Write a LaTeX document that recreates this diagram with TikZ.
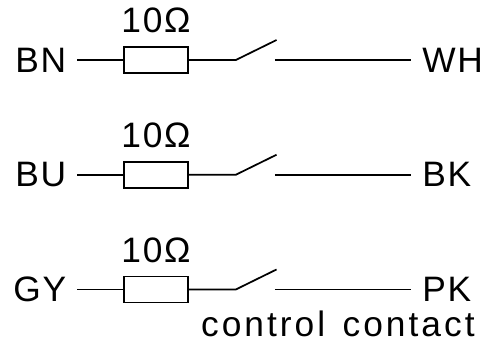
\documentclass[tikz,border=0pt]{standalone}
\usepackage{fontspec}
\setmainfont{Liberation Sans}
\usetikzlibrary{positioning}
\begin{document}
\begin{tikzpicture}
	[x=0.75pt, y=0.75pt, line width=1.3pt, node distance=65.25pt,
	 resistor/.style = {draw, shape=rectangle, minimum width=48pt, minimum height=19.5pt, inner sep=0pt},
	 tag/.style = {inner sep=0pt, font=\fontsize{26.5}{30}\selectfont\addfontfeatures{LetterSpace=5}},
	 remark/.style = {inner sep=0pt, font=\fontsize{26.5}{30}\selectfont\addfontfeatures{LetterSpace=8.5}},
	]

	\useasboundingbox (0,0) rectangle (490,-343);

	\node [resistor] at (156,-60)     (resA) {};
	\node [resistor, below=of resA]   (resB) {};
	\node [resistor, below=of resB]   (resC) {};

	\node [tag, above=9pt of resA]  (valA) {10Ω};
	\node [tag, above=9pt of resB]  (valB) {10Ω};
	\node [tag, above=9pt of resC]  (valC) {10Ω};

	\coordinate [left=34.5pt of resA.west]   (inA);
	\coordinate [left=34.5pt of resB.west]   (inB);
	\coordinate [left=34.5pt of resC.west]   (inC);
	\coordinate [right=35.25pt of resA.east] (hingeA);
	\coordinate [right=35.25pt of resB.east] (hingeB);
	\coordinate [right=35.25pt of resC.east] (hingeC);
	\coordinate [above right=15pt and 30.5pt of hingeA] (bladeA);
	\coordinate [above right=15pt and 30.5pt of hingeB] (bladeB);
	\coordinate [above right=15pt and 30.5pt of hingeC] (bladeC);
	\coordinate [below left=15pt and 1.25pt of bladeA]  (fixA);
	\coordinate [below left=15pt and 1.25pt of bladeB]  (fixB);
	\coordinate [below left=15pt and 1.25pt of bladeC]  (fixC);
	\coordinate [right=102pt of fixA] (outA);
	\coordinate [right=102pt of fixB] (outB);
	\coordinate [right=102pt of fixC] (outC);

	\node [tag, left=7.5pt of inA]   (bn) {BN};
	\node [tag, left=7.5pt of inB]   (bu) {BU};
	\node [tag, left=7.5pt of inC]   (gy) {GY};
	\node [tag, right=8pt of outA] (wh) {WH};
	\node [tag, right=8pt of outB] (bk) {BK};
	\node [tag, right=8pt of outC] (pk) {PK};
	\node [remark, below left=5.5pt and -2.5pt of pk.south east] (note) {control\hspace{3.5pt} contact};

	\draw (inA) -- (resA);
	\draw (inB) -- (resB);
	\draw (inC) -- (resC);
	\draw (resA) -- (hingeA) -- (bladeA);
	\draw (resB) -- (hingeB) -- (bladeB);
	\draw (resC) -- (hingeC) -- (bladeC);
	\draw (fixA) -- (outA);
	\draw (fixB) -- (outB);
	\draw (fixC) -- (outC);
\end{tikzpicture}
\end{document}
